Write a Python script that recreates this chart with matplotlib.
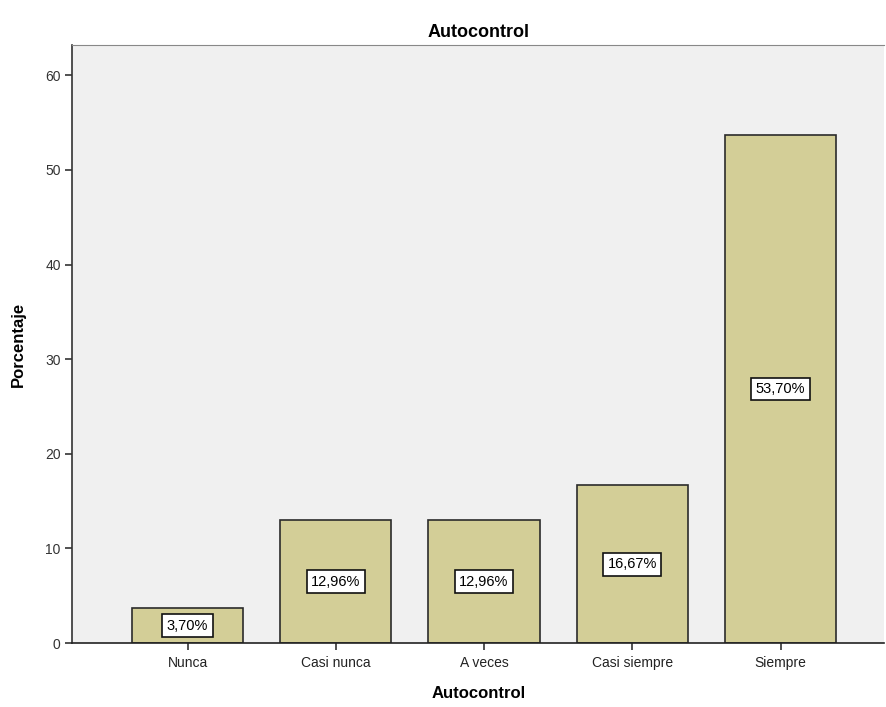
import matplotlib.pyplot as plt

plt.rcParams['font.family'] = ['Liberation Sans', 'DejaVu Sans']

categories = ["Nunca", "Casi nunca", "A veces", "Casi siempre", "Siempre"]
percentages = [3.70, 12.96, 12.96, 16.67, 53.70]
value_labels = ["3,70%", "12,96%", "12,96%", "16,67%", "53,70%"]
y_ticks = [0, 10, 20, 30, 40, 50, 60]

fig = plt.figure(figsize=(8.86, 7.07), dpi=100)
ax = fig.add_axes([0.0818, 0.0905, 0.916, 0.8458])
ax.set_facecolor("#F0F0F0")

x = list(range(len(categories)))
ax.bar(x, percentages, width=0.75, color="#D3CE97", edgecolor="#2B2B2B",
       linewidth=1.2, zorder=2)

# value boxes sit at half the bar height
for xi, val, lab in zip(x, percentages, value_labels):
    ax.text(xi, val / 2, lab, ha="center", va="center", fontsize=10.5,
            color="black", zorder=3,
            bbox=dict(boxstyle="square,pad=0.3", facecolor="white",
                      edgecolor="#111111", linewidth=1.2))

ax.set_xlim(-0.776, 4.698)
ax.set_ylim(0, 63.2)
ax.set_xticks(x)
ax.set_xticklabels(categories, fontsize=10, color="#222222")
ax.set_yticks(y_ticks)
ax.tick_params(axis="y", labelsize=10, labelcolor="#333333", length=5,
               width=1.2, color="#333333")
ax.tick_params(axis="x", length=5, width=1.2, color="#333333", pad=4)

ax.spines["right"].set_visible(False)
ax.spines["top"].set_color("#888888")
ax.spines["left"].set_color("#333333")
ax.spines["left"].set_linewidth(1.2)
ax.spines["bottom"].set_color("#222222")
ax.spines["bottom"].set_linewidth(1.2)

ax.set_title("Autocontrol", fontsize=13, fontweight="bold", pad=6)
ax.set_xlabel("Autocontrol", fontsize=12, fontweight="bold", labelpad=12)
ax.set_ylabel("Porcentaje", fontsize=12, fontweight="bold", labelpad=14)

fig.savefig("out.png", dpi=100)
